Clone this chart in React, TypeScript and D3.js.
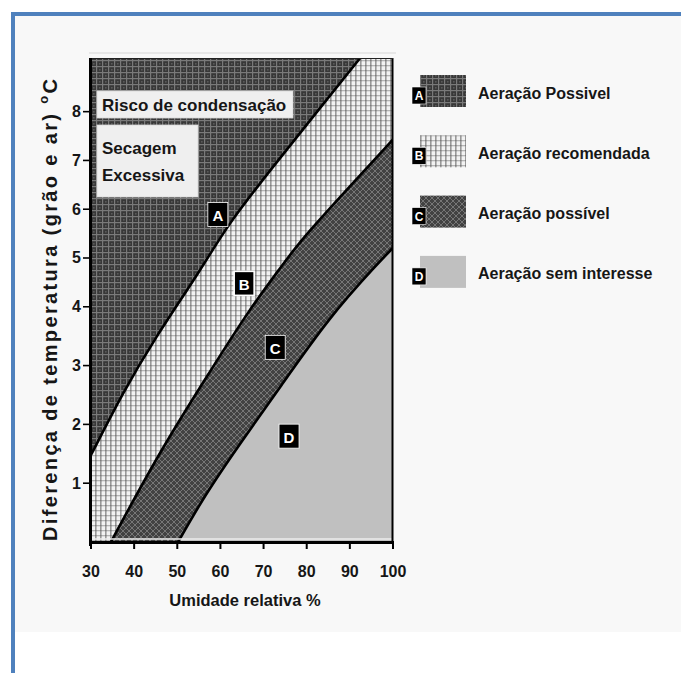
import * as d3 from "d3";

// eixos
const rhTicks = [30, 40, 50, 60, 70, 80, 90, 100];
const dtTicks = [1, 2, 3, 4, 5, 6, 7, 8];

// fronteira A / B
const curveARh = [30, 37.4, 44.4, 56.0, 61.5, 72.0, 82.6, 92.4];
const curveADt = [1.48, 2.54, 3.42, 4.83, 5.66, 6.85, 8.02, 9.1];
// fronteira B / C
const curveBRh = [34.6, 46.7, 58.3, 66.2, 74.5, 78.4, 89.3, 100];
const curveBDt = [0, 1.64, 2.98, 3.9, 4.87, 5.34, 6.4, 7.43];
// fronteira C / D
const curveCRh = [50.2, 56.4, 64.5, 73.8, 85.4, 96.3, 100];
const curveCDt = [0, 0.8, 1.67, 2.63, 3.84, 4.87, 5.21];

// zonas
const zoneLetters = ["A", "B", "C", "D"];
const zoneNames = [
  "Aeração Possivel",
  "Aeração recomendada",
  "Aeração possível",
  "Aeração sem interesse",
];
const letterRh = [59.4, 65.5, 72.7, 75.9];
const letterDt = [5.89, 4.48, 3.31, 1.8];

const FONT = "'Liberation Sans', Arial, sans-serif";
const INK = "#161616";

export default function App() {
  const left = 91;
  const right = 393;
  const top = 58;
  const bottom = 542;
  const dtMax = 9.1;

  const x = d3.scaleLinear().domain([30, 100]).range([left, right]);
  // o eixo vertical da figura original não é uniforme: mais espaçado em baixo
  const y = d3
    .scaleLinear()
    .domain([0, 4, dtMax])
    .range([bottom, bottom - 0.486 * (bottom - top), top]);

  const line = d3
    .line<[number, number]>()
    .x((d) => x(d[0]))
    .y((d) => y(d[1]))
    .curve(d3.curveBasis);

  const ptsA = curveARh.map((r, i) => [r, curveADt[i]] as [number, number]);
  const ptsB = curveBRh.map((r, i) => [r, curveBDt[i]] as [number, number]);
  const ptsC = curveCRh.map((r, i) => [r, curveCDt[i]] as [number, number]);

  const zoneB =
    line(ptsA) +
    `L${x(100)},${y(dtMax)}L${x(100)},${y(0)}L${x(30)},${y(0)}Z`;
  const zoneC = line(ptsB) + `L${x(100)},${y(0)}Z`;
  const zoneD = line(ptsC) + `L${x(100)},${y(0)}Z`;

  const fills = ["url(#patA)", "url(#patB)", "url(#patC)", "#c0c0c0"];

  return (
    <div>
      <svg
        width={681}
        height={673}
        style={{ position: "absolute", left: 0, top: 0, display: "block" }}
        fontFamily={FONT}
      >
        <defs>
          <pattern id="patA" width={6} height={6} patternUnits="userSpaceOnUse">
            <rect width={6} height={6} fill="#383838" />
            <rect width={6} height={1.2} fill="#7a7a7a" />
            <rect width={1.2} height={6} fill="#7a7a7a" />
            <rect x={3} y={3} width={1.6} height={1.6} fill="#5a5a5a" />
          </pattern>
          <pattern id="patB" width={5} height={5} patternUnits="userSpaceOnUse">
            <rect width={5} height={5} fill="#f2f2f2" />
            <rect width={1.6} height={5} fill="#999" />
            <rect width={5} height={1.3} fill="#b4b4b4" />
            <rect width={1.6} height={1.3} fill="#7c7c7c" />
          </pattern>
          <pattern id="patC" width={6} height={6} patternUnits="userSpaceOnUse">
            <rect width={6} height={6} fill="#424242" />
            <path d="M0,0L6,6M6,0L0,6" stroke="#767676" strokeWidth={1} />
          </pattern>
          <clipPath id="plot">
            <rect x={left} y={top} width={right - left} height={bottom - top} />
          </clipPath>
        </defs>

        {/* moldura da página */}
        <rect x={15} y={16} width={666} height={616} fill="#f8f8f8" />
        <rect x={11} y={12} width={4} height={661} fill="#4f81bd" />
        <rect x={11} y={12} width={670} height={4} fill="#4f81bd" />
        <line x1={89} x2={396} y1={53} y2={53} stroke="#d6d6d6" strokeWidth={1} />

        {/* zonas */}
        <g clipPath="url(#plot)">
          <rect x={left} y={top} width={right - left} height={bottom - top} fill={fills[0]} />
          <path d={zoneB} fill={fills[1]} />
          <path d={zoneC} fill={fills[2]} />
          <path d={zoneD} fill={fills[3]} />
          {[ptsA, ptsB, ptsC].map((p, i) => (
            <path key={i} d={line(p) ?? ""} fill="none" stroke="#000" strokeWidth={2.6} />
          ))}
          <line x1={left} x2={right} y1={bottom - 3} y2={bottom - 3} stroke="#ececec" strokeWidth={1.5} />
        </g>

        {/* caixas de texto */}
        <rect x={97} y={91} width={196} height={27} fill="#efefef" stroke="#d8d8d8" strokeWidth={0.8} />
        <text x={102} y={111} fontSize={17} fontWeight="bold" fill={INK}>
          Risco de condensação
        </text>
        <rect x={97} y={125} width={101} height={72} fill="#efefef" stroke="#d8d8d8" strokeWidth={0.8} />
        <text x={102} y={154} fontSize={17} fontWeight="bold" fill={INK}>
          Secagem
        </text>
        <text x={102} y={181} fontSize={17} fontWeight="bold" fill={INK}>
          Excessiva
        </text>

        {/* letras das zonas */}
        {zoneLetters.map((l, i) => {
          const cx = x(letterRh[i]);
          const cy = y(letterDt[i]);
          return (
            <g key={l}>
              <rect
                x={cx - 10}
                y={cy - 12}
                width={20}
                height={24}
                fill="#000"
                stroke="#fff"
                strokeWidth={i === 1 ? 1.6 : 0.8}
              />
              <text
                x={cx}
                y={cy + 1}
                textAnchor="middle"
                dominantBaseline="central"
                fontSize={15}
                fontWeight="bold"
                fill="#fff"
              >
                {l}
              </text>
            </g>
          );
        })}

        {/* eixos */}
        <line x1={right - 0.5} x2={right - 0.5} y1={top} y2={bottom} stroke="#000" strokeWidth={2} />
        <line x1={left} x2={right} y1={top + 0.5} y2={top + 0.5} stroke="#222" strokeWidth={1.2} />
        <line x1={left - 0.5} x2={left - 0.5} y1={top} y2={bottom + 4} stroke="#000" strokeWidth={3} />
        <line x1={left - 2} x2={right + 1} y1={bottom + 0.5} y2={bottom + 0.5} stroke="#000" strokeWidth={3} />
        {dtTicks.map((t) => (
          <g key={t}>
            <line x1={left - 8} x2={left} y1={y(t)} y2={y(t)} stroke="#000" strokeWidth={1.6} />
            <text
              x={81}
              y={y(t)}
              textAnchor="end"
              dominantBaseline="central"
              fontSize={16}
              fontWeight="bold"
              fill={INK}
            >
              {t}
            </text>
          </g>
        ))}
        {rhTicks.map((t) => (
          <g key={t}>
            <line x1={x(t)} x2={x(t)} y1={bottom} y2={bottom + 7} stroke="#000" strokeWidth={2} />
            <text
              x={x(t)}
              y={577}
              textAnchor="middle"
              fontSize={16}
              fontWeight="bold"
              fill={INK}
            >
              {t}
            </text>
          </g>
        ))}
        <text x={245} y={606} textAnchor="middle" fontSize={16.5} fontWeight="bold" fill={INK}>
          Umidade relativa %
        </text>
        <text
          transform="translate(50,310) rotate(-90)"
          textAnchor="middle"
          dominantBaseline="central"
          fontSize={20}
          fontWeight="bold"
          fill={INK}
          textLength={462}
          lengthAdjust="spacing"
        >
          Diferença de temperatura (grão e ar){" "}
          <tspan fontSize={13} dy={-7}>
            o
          </tspan>
          <tspan dy={7}>C</tspan>
        </text>

        {/* legenda */}
        {zoneNames.map((name, i) => {
          const cy = 93 + i * 60.3;
          return (
            <g key={name}>
              <rect x={420} y={cy - 18} width={46} height={32} fill={fills[i]} />
              <rect x={412} y={cy - 6} width={14} height={17} fill="#000" stroke="#fff" strokeWidth={0.6} />
              <text
                x={419}
                y={cy + 3}
                textAnchor="middle"
                dominantBaseline="central"
                fontSize={12}
                fontWeight="bold"
                fill="#fff"
              >
                {zoneLetters[i]}
              </text>
              <text
                x={478}
                y={cy}
                dominantBaseline="central"
                fontSize={16}
                fontWeight="bold"
                fill={INK}
              >
                {name}
              </text>
            </g>
          );
        })}
      </svg>
    </div>
  );
}
